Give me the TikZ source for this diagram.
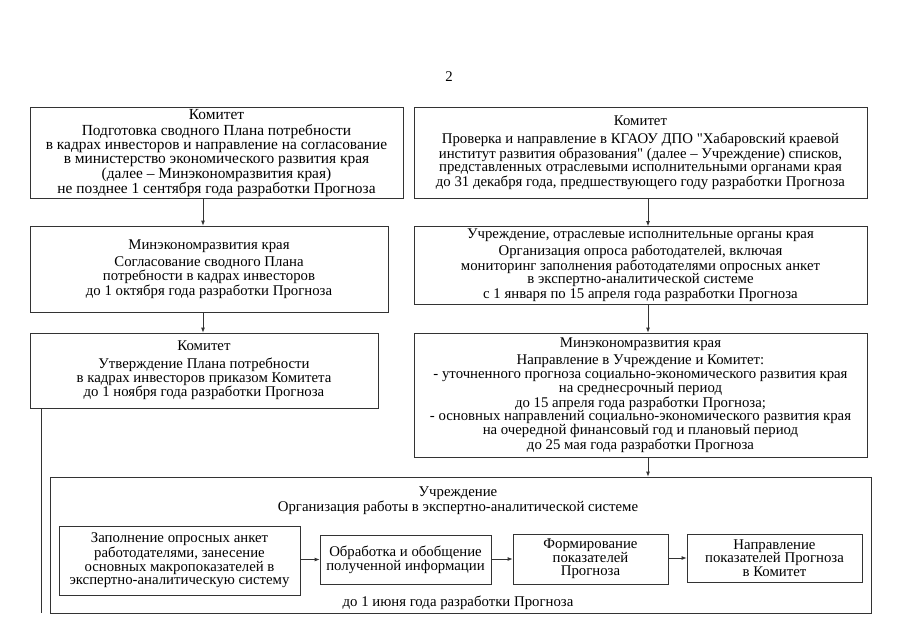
\documentclass[tikz,border=0pt]{standalone}
\usepackage{fontspec}
\setmainfont{Liberation Serif}
\usetikzlibrary{arrows.meta,positioning}
\tikzset{
  box/.style={draw=black!80,line width=.8pt,align=center,inner sep=0pt},
  arr/.style={draw=black!80,line width=.8pt,-{Latex[length=5pt,width=4pt]}},
  link/.style={draw=black!80,line width=.8pt},
  big/.style={font=\fontsize{15.4}{13.7}\selectfont},
}
\begin{document}
\begin{tikzpicture}[x=1pt,y=-1pt,font=\fontsize{14.8}{13.7}\selectfont]
\useasboundingbox (0,0) rectangle (906,640);
\node (pg) at (449,77) {2};
\coordinate (lc) at (203,0); \coordinate (rc) at (648,0); \coordinate (ll) at (41,0);
% left column
\node[box,big,minimum width=373,minimum height=91] (plan) at (216.5,153) {Комитет\\[3pt]
Подготовка сводного Плана потребности\\
в кадрах инвесторов и направление на согласование\\
в министерство экономического развития края\\
(далее – Минэкономразвития края)\\
не позднее 1 сентября года разработки Прогноза};
\node[box,minimum width=358,minimum height=86] (agree) at (209,269) {Минэкономразвития края\\[4pt]
Согласование сводного Плана\\
потребности в кадрах инвесторов\\
до 1 октября года разработки Прогноза};
\node[box,minimum width=348,minimum height=75] (approve) at (204,370.5) {Комитет\\[4pt]
Утверждение Плана потребности\\
в кадрах инвесторов приказом Комитета\\
до 1 ноября года разработки Прогноза};
% right column
\node[box,minimum width=453,minimum height=91] (check) at (640.5,153) {Комитет\\[4pt]
Проверка и направление в КГАОУ ДПО \textquotedbl Хабаровский краевой\\
институт развития образования\textquotedbl{} (далее – Учреждение) списков,\\
представленных отраслевыми исполнительными органами края\\
до 31 декабря года, предшествующего году разработки Прогноза};
\node[box,minimum width=453,minimum height=78] (survey) at (640.5,265.5) {Учреждение, отраслевые исполнительные органы края\\[2pt]
Организация опроса работодателей, включая\\
мониторинг заполнения работодателями опросных анкет\\
в экспертно-аналитической системе\\
с 1 января по 15 апреля года разработки Прогноза};
\node[box,minimum width=453,minimum height=124] (forecast) at (640.5,395) {Минэкономразвития края\\[4pt]
Направление в Учреждение и Комитет:\\
- уточненного прогноза социально-экономического развития края\\
на среднесрочный период\\
до 15 апреля года разработки Прогноза;\\
- основных направлений социально-экономического развития края\\
на очередной финансовый год и плановый период\\
до 25 мая года разработки Прогноза};
% lower frame
\node[box,minimum width=821,minimum height=136] (work) at (460.5,545) {};
\node[align=center,inner sep=0pt] (workhead) at (458,501) {Учреждение\\Организация работы в экспертно-аналитической системе};
\node[inner sep=0pt] (worktime) at (458,603) {до 1 июня года разработки Прогноза};
\node[box,minimum width=241,minimum height=69] (fill) at (179.5,560.5) {Заполнение опросных анкет\\
работодателями, занесение\\
основных макропоказателей в\\
экспертно-аналитическую систему};
\node[box,minimum width=171,minimum height=49] (proc) at (405.5,559.5) {Обработка и обобщение\\полученной информации};
\node[box,minimum width=155,minimum height=50] (form) at (590.5,559) {Формирование\\показателей\\Прогноза};
\node[box,minimum width=175,minimum height=48] (send) at (774.5,558) {Направление\\показателей Прогноза\\в Комитет};
% connectors
\draw[arr] (plan.south -| lc) -- (agree.north -| lc);
\draw[arr] (agree.south -| lc) -- (approve.north -| lc);
\draw[arr] (check.south -| rc) -- (survey.north -| rc);
\draw[arr] (survey.south -| rc) -- (forecast.north -| rc);
\draw[arr] (forecast.south -| rc) -- (work.north -| rc);
\draw[link] (approve.south -| ll) -- (work.south -| ll);
\draw[arr] (proc.west -| fill.east) -- (proc.west);
\draw[arr] (form.west -| proc.east) -- (form.west);
\draw[arr] (send.west -| form.east) -- (send.west);
\end{tikzpicture}
\end{document}
